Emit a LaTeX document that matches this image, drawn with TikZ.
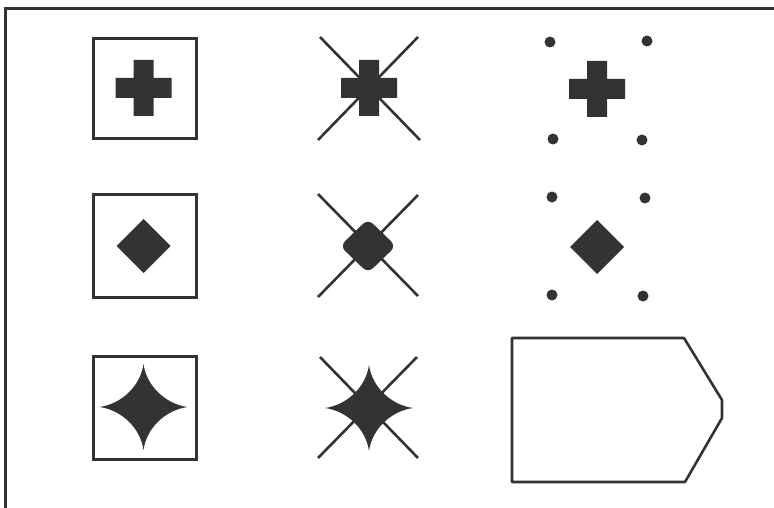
\documentclass[tikz,border=0pt]{standalone}
\definecolor{ink}{RGB}{51,51,51}
\tikzset{
  boxframe/.style={draw=ink, line width=3pt},
  xline/.style={draw=ink, line width=2.6pt},
  blob/.style={fill=ink},
  dotmark/.style={fill=ink},
  pentline/.style={draw=ink, line width=2.6pt, line join=round},
}
\newcommand{\plusshape}[1]{\fill[blob] (#1) ++(-28,-10) -- ++(18,0) -- ++(0,-18) -- ++(20,0) -- ++(0,18) -- ++(18,0) -- ++(0,20) -- ++(-18,0) -- ++(0,18) -- ++(-20,0) -- ++(0,-18) -- ++(-18,0) -- cycle;}
\newcommand{\diamondshape}[2]{\fill[blob] (#1) ++(-#2,0) -- ++(#2,-#2) -- ++(#2,#2) -- ++(-#2,#2) -- cycle;}
\newcommand{\starshape}[1]{\fill[blob] (#1) ++(44,0)
  .. controls ++(-22,-3) and ++(3,22) .. ++(-44,-43)
  .. controls ++(-3,22) and ++(22,-3) .. ++(-44,43)
  .. controls ++(22,3) and ++(-3,-22) .. ++(44,43)
  .. controls ++(3,-22) and ++(-22,3) .. cycle;}
\begin{document}
\begin{tikzpicture}[x=1pt,y=-1pt]
\useasboundingbox (0,0) rectangle (774,508);
% frame (top and left only)
\draw[ink, line width=3pt] (5.5,508) -- (5.5,8.5) -- (774,8.5);

% column 1: boxed symbols
\node[boxframe, minimum width=103pt, minimum height=100pt, inner sep=0pt] (b1) at (144.5,89) {};
\node[boxframe, minimum width=103pt, minimum height=103pt, inner sep=0pt] (b2) at (144.5,245.5) {};
\node[boxframe, minimum width=103pt, minimum height=103pt, inner sep=0pt] (b3) at (144.5,407.5) {};
\coordinate (c1) at (143.5,88);
\coordinate (c2) at (143.5,246);
\coordinate (c3) at (143.5,407);
\plusshape{c1}
\diamondshape{c2}{27}
\starshape{c3}

% column 2: crossed symbols
\coordinate (x1) at (369,88);
\coordinate (x2) at (368,246);
\coordinate (x3) at (369,408);
\draw[xline] (320,37) -- (420,140);
\draw[xline] (418,37) -- (318,140);
\draw[xline] (318,194) -- (418,296);
\draw[xline] (418,195) -- (318,297);
\draw[xline] (320,357) -- (418,458);
\draw[xline] (417,357) -- (318,458);
\plusshape{x1}
\fill[blob, rounded corners=7pt] (x2) ++(-28,0) -- ++(28,-27) -- ++(28,27) -- ++(-28,27) -- cycle;
\starshape{x3}

% column 3: dotted symbols
\coordinate (d1) at (597,89);
\coordinate (d2) at (597,247);
\plusshape{d1}
\diamondshape{d2}{27}
\foreach \p in {(550,42),(647,41),(553,139),(642,140),(552,197),(645,198),(552,295),(643,296)}
  \fill[dotmark] \p circle (5.5pt);

% pentagon
\draw[pentline] (512,338) -- (684,338) -- (722,400) -- (722,418) -- (685,482) -- (512,482) -- cycle;
\end{tikzpicture}
\end{document}
